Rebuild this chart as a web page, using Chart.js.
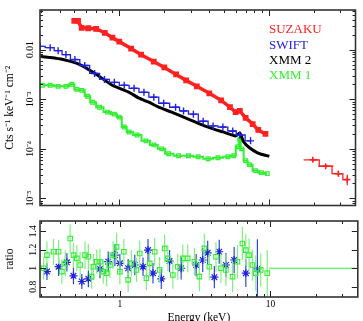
<!DOCTYPE html>
<html>
<head>
<meta charset="utf-8">
<script src="https://cdn.jsdelivr.net/npm/chart.js@4.4.0/dist/chart.umd.min.js"></script>
<style>
  html, body { margin: 0; padding: 0; background: #fff; overflow: hidden; width: 363px; height: 321px; }
  canvas { position: absolute; left: 0; }
  #top { top: 0; }
  #bot { top: 213px; }
</style>
</head>
<body>
<canvas id="top" width="363" height="213"></canvas>
<canvas id="bot" width="363" height="120"></canvas>
<script>
// ---- spectra (keV, counts s^-1 keV^-1 cm^-2) ----
const suzakuE = [0.50, 0.53, 0.56, 0.62, 0.70, 0.80, 0.90, 1.0, 1.2, 1.4, 1.7, 2.0, 2.4, 2.8, 3.3, 4.0, 4.8, 5.5, 6.0, 6.4, 7.0, 7.8, 8.5, 9.5];
const suzakuRate = [0.038, 0.038, 0.0275, 0.027, 0.0263, 0.0219, 0.0174, 0.0145, 0.0105, 0.0079, 0.00575, 0.00437, 0.00316, 0.0024, 0.00182, 0.00132, 0.00095, 0.00069, 0.00055, 0.00058, 0.00042, 0.000316, 0.00024, 0.0002];

const hxdE = [19.7, 24.0, 29.2, 33.5];
const hxdRate = [6.0e-5, 4.47e-5, 3.16e-5, 2.4e-5];
const hxdELo = [17.1, 21.4, 27.0, 31.3];
const hxdEHi = [21.4, 27.0, 31.3, 35.0];
const hxdLo = [5.6e-5, 4.1e-5, 2.8e-5, 1.85e-5];
const hxdHi = [6.4e-5, 4.9e-5, 3.6e-5, 3.0e-5];

const swiftE = [0.296, 0.345, 0.390, 0.440, 0.505, 0.587, 0.684, 0.796, 0.927, 1.079, 1.256, 1.462, 1.702, 1.982, 2.38, 2.69, 3.13, 3.64, 4.24, 4.93, 5.74, 6.39, 7.55];
const swiftRate = [0.01164, 0.01096, 0.00955, 0.00794, 0.00631, 0.00479, 0.00331, 0.00251, 0.00219, 0.00191, 0.00166, 0.00138, 0.0011, 0.00083, 0.00069, 0.00058, 0.0005, 0.00036, 0.00029, 0.000275, 0.000229, 0.00019, 0.000145];

const xmm2E = [0.296, 0.345, 0.420, 0.545, 0.705, 0.899, 1.164, 1.355, 1.578, 1.837, 2.24, 2.90, 3.75, 4.93, 6.01, 6.39, 6.79, 7.43, 8.40, 9.20, 10.08];
const xmm2Rate = [0.00724, 0.00692, 0.00631, 0.00501, 0.00316, 0.00191, 0.00138, 0.00105, 0.00087, 0.00069, 0.00055, 0.000398, 0.000288, 0.000219, 0.000182, 0.000209, 0.000138, 0.000105, 0.0000832, 0.0000759, 0.0000708];

const xmm1E = [0.306, 0.345, 0.390, 0.440, 0.482, 0.520, 0.561, 0.615, 0.664, 0.738, 0.834, 0.927, 1.0, 1.079, 1.164, 1.315, 1.507, 1.702, 1.922, 2.138, 2.49, 2.90, 3.37, 3.93, 4.57, 5.32, 5.83, 6.20, 6.39, 6.58, 7.00, 7.43, 8.15, 8.92, 9.77];
const xmm1Rate = [0.00191, 0.00191, 0.00182, 0.00182, 0.002, 0.00158, 0.00151, 0.00115, 0.00087, 0.00069, 0.00055, 0.0005, 0.000437, 0.000275, 0.000219, 0.00019, 0.000145, 0.00012, 0.0001, 0.0000794, 0.0000724, 0.0000724, 0.0000692, 0.0000631, 0.0000661, 0.0000692, 0.0000724, 0.00011, 0.000158, 0.0001, 0.0000575, 0.0000479, 0.0000363, 0.0000331, 0.0000316];

// ---- ratios ----
const swiftRatioE = [0.328, 0.392, 0.445, 0.492, 0.559, 0.618, 0.738, 0.837, 0.927, 1.0, 1.135, 1.256, 1.425, 1.538, 1.659, 1.884, 2.138, 2.553, 3.21, 3.55, 3.83, 4.24, 4.57, 5.06, 5.74, 6.86, 8.19];
const swiftRatio = [0.964, 1.017, 1.064, 0.918, 0.857, 0.886, 0.993, 1.071, 1.142, 1.053, 1.0, 1.035, 1.017, 1.196, 0.947, 0.886, 1.078, 1.0, 1.035, 1.089, 1.167, 0.904, 1.178, 1.035, 1.089, 0.947, 0.993];
const swiftRatioErr = [0.09, 0.10, 0.10, 0.09, 0.08, 0.09, 0.10, 0.11, 0.12, 0.10, 0.10, 0.11, 0.10, 0.12, 0.11, 0.11, 0.12, 0.12, 0.12, 0.13, 0.13, 0.12, 0.13, 0.13, 0.14, 0.15, 0.32];

const xmm1RatioE = [0.312, 0.328, 0.363, 0.392, 0.412, 0.434, 0.468, 0.492, 0.518, 0.545, 0.587, 0.618, 0.650, 0.667, 0.702, 0.738, 0.776, 0.817, 0.859, 0.903, 0.951, 1.0, 1.063, 1.135, 1.194, 1.289, 1.355, 1.500, 1.578, 1.702, 1.837, 1.982, 2.084, 2.248, 2.425, 2.617, 2.824, 3.126, 3.373, 3.639, 3.927, 4.349, 4.69, 5.06, 5.60, 6.04, 6.51, 6.86, 7.21, 7.59, 7.99, 8.62, 9.52];
const xmm1Ratio = [1.0, 1.142, 1.178, 1.178, 0.964, 1.053, 1.321, 1.142, 1.107, 1.035, 1.142, 1.124, 0.910, 1.017, 1.071, 1.071, 0.964, 0.947, 1.035, 1.142, 1.231, 0.964, 1.178, 0.875, 1.053, 0.982, 1.160, 0.893, 1.053, 1.178, 0.982, 1.214, 1.107, 0.928, 1.017, 1.107, 1.107, 1.071, 0.910, 1.214, 1.017, 1.124, 1.0, 0.982, 0.910, 1.071, 1.267, 1.196, 1.142, 1.035, 0.947, 0.982, 0.947];
const xmm1RatioErr = [0.12, 0.15, 0.14, 0.13, 0.13, 0.14, 0.15, 0.13, 0.14, 0.14, 0.15, 0.14, 0.13, 0.14, 0.13, 0.14, 0.13, 0.14, 0.14, 0.15, 0.15, 0.14, 0.14, 0.13, 0.14, 0.13, 0.14, 0.13, 0.14, 0.15, 0.14, 0.15, 0.14, 0.15, 0.14, 0.15, 0.15, 0.15, 0.16, 0.16, 0.15, 0.16, 0.16, 0.17, 0.17, 0.18, 0.18, 0.17, 0.18, 0.17, 0.19, 0.18, 0.25];
const unityE = [9.8, 40];
const unityRatio = [1, 1];

const legendLabels = ['SUZAKU', 'SWIFT', 'XMM 2', 'XMM 1'];

const RED = '#ff2020', BLUE = '#2020e0', GREEN = '#33ee33', BLACK = '#000000';
const SERIF = "'Liberation Serif', 'Times New Roman', serif";
const legendColors = [RED, BLUE, BLACK, GREEN];

const pts = (xs, ys) => xs.map((x, i) => ({ x, y: ys[i] }));
const sup = { '-': '⁻', '0': '⁰', '1': '¹', '2': '²', '3': '³', '4': '⁴', '5': '⁵', '6': '⁶', '7': '⁷', '8': '⁸', '9': '⁹' };

function tickList(scale) {
  if (scale.type === 'logarithmic') {
    const out = [];
    for (let d = Math.floor(Math.log10(scale.min)); d <= Math.ceil(Math.log10(scale.max)); d++) {
      for (let m = 1; m <= 9; m++) {
        const v = m * Math.pow(10, d);
        if (v >= scale.min && v <= scale.max) out.push({ v, major: m === 1 });
      }
    }
    return out;
  }
  return scale.ticks.map(t => ({ v: t.value, major: true }));
}

// inward ticks on all four sides plus the frame
const frameTicks = {
  id: 'frameTicks',
  afterDatasetsDraw(chart) {
    const { ctx, chartArea: a, scales } = chart;
    ctx.save();
    ctx.strokeStyle = '#222';
    ctx.lineWidth = 1;
    ctx.beginPath();
    for (const t of tickList(scales.x)) {
      const px = Math.round(scales.x.getPixelForValue(t.v)) + 0.5;
      const len = t.major ? 6 : 3;
      ctx.moveTo(px, a.bottom); ctx.lineTo(px, a.bottom - len);
      ctx.moveTo(px, a.top); ctx.lineTo(px, a.top + len);
    }
    for (const t of tickList(scales.y)) {
      const py = Math.round(scales.y.getPixelForValue(t.v)) + 0.5;
      const len = t.major ? 6 : 3;
      ctx.moveTo(a.left, py); ctx.lineTo(a.left + len, py);
      ctx.moveTo(a.right, py); ctx.lineTo(a.right - len, py);
    }
    ctx.stroke();
    ctx.lineWidth = 1.6;
    ctx.strokeStyle = '#333';
    ctx.strokeRect(a.left, a.top, a.right - a.left, a.bottom - a.top);
    ctx.restore();
  }
};

const errorBars = {
  id: 'errorBars',
  beforeDatasetDraw(chart, args) {
    const ds = chart.data.datasets[args.index];
    if (!ds.errY && !ds.errX) return;
    const { ctx, chartArea: a } = chart;
    const xs = chart.scales.x, ys = chart.scales.y;
    ctx.save();
    ctx.beginPath();
    ctx.rect(a.left, a.top, a.right - a.left, a.bottom - a.top);
    ctx.clip();
    ctx.strokeStyle = ds.errColor || ds.borderColor;
    ctx.lineWidth = ds.errWidth || 1;
    ctx.beginPath();
    ds.data.forEach((p, i) => {
      const px = xs.getPixelForValue(p.x), py = ys.getPixelForValue(p.y);
      if (ds.errY) {
        ctx.moveTo(px, ys.getPixelForValue(ds.errY[i][0]));
        ctx.lineTo(px, ys.getPixelForValue(ds.errY[i][1]));
      }
      if (ds.errX) {
        ctx.moveTo(xs.getPixelForValue(ds.errX[i][0]), py);
        ctx.lineTo(xs.getPixelForValue(ds.errX[i][1]), py);
      }
    });
    ctx.stroke();
    ctx.restore();
  }
};

const textLegend = {
  id: 'textLegend',
  afterDraw(chart) {
    const { ctx, chartArea: a } = chart;
    ctx.save();
    ctx.font = '13px ' + SERIF;
    ctx.textBaseline = 'middle';
    legendLabels.forEach((t, i) => {
      ctx.fillStyle = legendColors[i];
      ctx.fillText(t, a.left + 229, a.top + 20 + i * 15.3);
    });
    ctx.restore();
  }
};

const xRange = { min: 0.295, max: 38 };

new Chart(document.getElementById('top'), {
  type: 'line',
  data: {
    datasets: [
      { label: 'SUZAKU', data: pts(suzakuE, suzakuRate), borderColor: RED, backgroundColor: RED,
        borderWidth: 3.5, pointStyle: 'rect', pointRadius: 1.6, tension: 0 },
      { label: 'SUZAKU HXD', data: pts(hxdE, hxdRate), borderColor: RED, backgroundColor: RED,
        borderWidth: 1.3, stepped: 'middle', pointStyle: 'cross', pointRadius: 3, pointBorderWidth: 1.5,
        errX: hxdE.map((e, i) => [hxdELo[i], hxdEHi[i]]), errY: hxdE.map((e, i) => [hxdLo[i], hxdHi[i]]), errWidth: 1.3 },
      { label: 'SWIFT', data: pts(swiftE, swiftRate), borderColor: BLUE, backgroundColor: BLUE,
        borderWidth: 1.3, stepped: 'middle', pointStyle: 'cross', pointRadius: 3.5, pointBorderWidth: 1.4 },
      { label: 'XMM 2', data: pts(xmm2E, xmm2Rate), borderColor: BLACK, backgroundColor: BLACK,
        borderWidth: 3, pointRadius: 0, tension: 0.2 },
      { label: 'XMM 1', data: pts(xmm1E, xmm1Rate), borderColor: GREEN, backgroundColor: 'rgba(0,0,0,0)',
        borderWidth: 2, stepped: 'middle', pointStyle: 'rect', pointRadius: 2.6, pointBorderWidth: 1.2 }
    ]
  },
  options: {
    responsive: false,
    animation: false,
    layout: { padding: { top: 10, right: 4, bottom: 6, left: 0 } },
    plugins: { legend: { display: false }, tooltip: { enabled: false } },
    scales: {
      x: { type: 'logarithmic', min: xRange.min, max: xRange.max, display: false },
      y: {
        type: 'logarithmic', min: 7.2e-6, max: 0.063,
        grid: { display: false, drawTicks: false }, border: { display: false },
        ticks: {
          autoSkip: false, minRotation: 90, maxRotation: 90, crossAlign: 'center', padding: 1,
          color: '#000', font: { family: SERIF, size: 9.5 },
          callback(v) {
            const e = Math.log10(v);
            if (Math.abs(e - Math.round(e)) > 1e-6) return '';
            const n = Math.round(e);
            if (n === -2) return '0.01';
            return '10' + String(n).split('').map(c => sup[c]).join('');
          }
        },
        title: { display: true, text: 'Cts s⁻¹ keV⁻¹ cm⁻²', color: '#000', font: { family: SERIF, size: 11.5 }, padding: { top: 3, bottom: 0 } },
        afterFit(s) { s.width = 40; }
      }
    }
  },
  plugins: [errorBars, frameTicks, textLegend]
});

new Chart(document.getElementById('bot'), {
  type: 'line',
  data: {
    datasets: [
      { label: 'XMM 1 ratio', data: pts(xmm1RatioE, xmm1Ratio), showLine: false, borderColor: GREEN, backgroundColor: 'rgba(0,0,0,0)',
        pointStyle: 'rect', pointRadius: 3.2, pointBorderWidth: 1.1,
        errY: xmm1Ratio.map((r, i) => [r - xmm1RatioErr[i], r + xmm1RatioErr[i]]), errColor: '#7df27d', errWidth: 1.2 },
      { label: 'SWIFT ratio', data: pts(swiftRatioE, swiftRatio), showLine: false, borderColor: BLUE, backgroundColor: BLUE,
        pointStyle: 'star', pointRadius: 4, pointBorderWidth: 1.2,
        errY: swiftRatio.map((r, i) => [r - swiftRatioErr[i], r + swiftRatioErr[i]]), errColor: '#3344dd', errWidth: 1.2 },
      { label: 'unity', data: pts(unityE, unityRatio), borderColor: GREEN, borderWidth: 1.2, pointRadius: 0 }
    ]
  },
  options: {
    responsive: false,
    animation: false,
    layout: { padding: { top: 8, right: 4, bottom: 0, left: 0 } },
    plugins: { legend: { display: false }, tooltip: { enabled: false } },
    scales: {
      x: {
        type: 'logarithmic', min: xRange.min, max: xRange.max,
        grid: { display: false, drawTicks: false }, border: { display: false },
        ticks: {
          autoSkip: false, maxRotation: 0, padding: 2, color: '#000', font: { family: SERIF, size: 9.5 },
          callback(v) {
            const e = Math.log10(v);
            if (Math.abs(e - Math.round(e)) > 1e-6) return '';
            return String(Math.round(v));
          }
        },
        title: { display: true, text: 'Energy (keV)', color: '#000', font: { family: SERIF, size: 11.5 }, padding: { top: 0, bottom: 8 } },
        afterFit(s) { s.height = 36; }
      },
      y: {
        min: 0.69, max: 1.51,
        grid: { display: false, drawTicks: false }, border: { display: false },
        ticks: {
          stepSize: 0.2, includeBounds: false, minRotation: 90, maxRotation: 90, crossAlign: 'center', padding: 1,
          color: '#000', font: { family: SERIF, size: 9.5 },
          callback: v => String(Math.round(v * 10) / 10)
        },
        title: { display: true, text: 'ratio', color: '#000', font: { family: SERIF, size: 11.5 }, padding: { top: 3, bottom: 0 } },
        afterFit(s) { s.width = 40; }
      }
    }
  },
  plugins: [errorBars, frameTicks]
});
</script>
</body>
</html>
